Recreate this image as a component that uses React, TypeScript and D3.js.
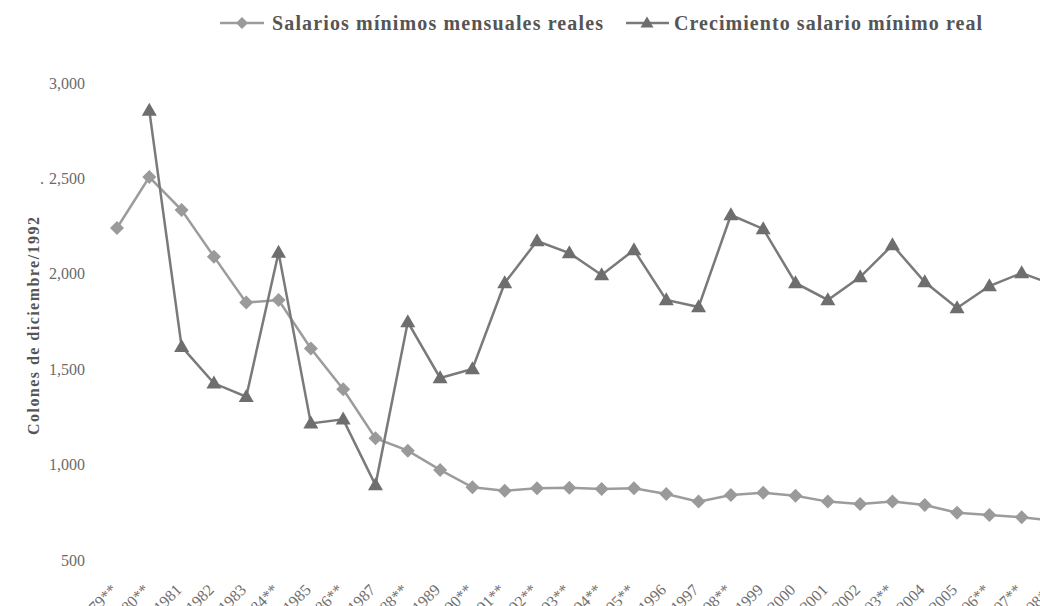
import React from "react";
import * as d3 from "d3";

const years = [
  "1979**", "1980**", "1981", "1982", "1983", "1984**", "1985", "1986**", "1987", "1988**",
  "1989", "1990**", "1991**", "1992**", "1993**", "1994**", "1995**", "1996", "1997", "1998**",
  "1999", "2000", "2001", "2002", "2003**", "2004", "2005", "2006**", "2007**", "2008**",
];

const salariosReales: (number | null)[] = [
  2240, 2507, 2334, 2090, 1849, 1863, 1609, 1395, 1138, 1073,
  972, 881, 863, 876, 879, 872, 876, 846, 806, 841,
  853, 837, 806, 793, 806, 788, 748, 736, 724, 706,
];

const crecimiento: (number | null)[] = [
  null, 2855, 1618, 1426, 1356, 2111, 1216, 1237, 893, 1747,
  1454, 1501, 1952, 2172, 2109, 1994, 2125, 1863, 1826, 2308,
  2235, 1952, 1863, 1983, 2151, 1957, 1821, 1936, 2004, 1942,
];

const yTicks = [500, 1000, 1500, 2000, 2500, 3000];
const legendLabels = ["Salarios mínimos mensuales reales", "Crecimiento salario mínimo real"];
const yTitle = "Colones de diciembre/1992";

export default function App() {
  const W = 1040;
  const H = 606;
  const x = d3.scalePoint<string>().domain(years).range([117, 1054]);
  const y = d3.scaleLinear().domain([500, 3000]).range([560, 83]);
  const fmt = d3.format(",");

  const line = d3
    .line<number | null>()
    .defined((d) => d !== null)
    .x((_, i) => x(years[i]) as number)
    .y((d) => y(d as number));

  const c1Line = "#9c9c9c";
  const c1Fill = "#9a9a9a";
  const c2Line = "#7a7a7a";
  const c2Fill = "#6e6e6e";

  const diamond = (cx: number, cy: number, r = 7) =>
    `M${cx},${cy - r}L${cx + r},${cy}L${cx},${cy + r}L${cx - r},${cy}Z`;
  const triangle = (cx: number, cy: number, w = 7.5, h = 13) =>
    `M${cx},${cy - h * 0.6}L${cx + w},${cy + h * 0.4}L${cx - w},${cy + h * 0.4}Z`;

  return (
    <div style={{ position: "absolute", left: 0, top: 0, width: W, height: H, overflow: "hidden", background: "#fff" }}>
      <svg width={W} height={H} style={{ display: "block" }} fontFamily="'Liberation Serif', 'Times New Roman', serif">
        {/* legend */}
        <g>
          <line x1={220} x2={264} y1={23} y2={23} stroke={c1Line} strokeWidth={2.5} />
          <path d={diamond(242, 23, 6)} fill={c1Fill} />
          <text x={272} y={30} fontSize={20} fontWeight="bold" fill="#555" textLength={331} lengthAdjust="spacing">
            {legendLabels[0]}
          </text>
          <line x1={626} x2={669} y1={23} y2={23} stroke={c2Line} strokeWidth={2.5} />
          <path d={triangle(647, 23, 6.5, 11)} fill={c2Fill} />
          <text x={674} y={30} fontSize={20} fontWeight="bold" fill="#555" textLength={308} lengthAdjust="spacing">
            {legendLabels[1]}
          </text>
        </g>

        {/* y axis labels */}
        {yTicks.map((t) => (
          <text key={t} x={85} y={y(t)} dy="0.35em" textAnchor="end" fontSize={16} fill="#6a6a6a">
            {fmt(t)}
          </text>
        ))}
        <text x={40} y={y(2500)} dy="0.35em" fontSize={16} fill="#6a6a6a">.</text>

        {/* y title */}
        <text
          transform={`translate(39, 326) rotate(-90)`}
          textAnchor="middle"
          fontSize={16}
          fontWeight="bold"
          fill="#555"
          textLength={218}
          lengthAdjust="spacing"
        >
          {yTitle}
        </text>

        {/* x labels */}
        {years.map((yr) => (
          <text
            key={yr}
            transform={`translate(${(x(yr) as number) - 3}, 587) rotate(-45)`}
            textAnchor="end"
            dy="0.35em"
            fontSize={16}
            fill="#707070"
          >
            {yr}
          </text>
        ))}

        {/* series 1: diamonds */}
        <path d={line(salariosReales) || ""} fill="none" stroke={c1Line} strokeWidth={2.5} />
        {/* series 2: triangles */}
        <path d={line(crecimiento) || ""} fill="none" stroke={c2Line} strokeWidth={2.5} />

        {salariosReales.map((v, i) =>
          v === null ? null : <path key={"d" + i} d={diamond(x(years[i]) as number, y(v))} fill={c1Fill} />
        )}
        {crecimiento.map((v, i) =>
          v === null ? null : <path key={"t" + i} d={triangle(x(years[i]) as number, y(v))} fill={c2Fill} />
        )}
      </svg>
    </div>
  );
}
